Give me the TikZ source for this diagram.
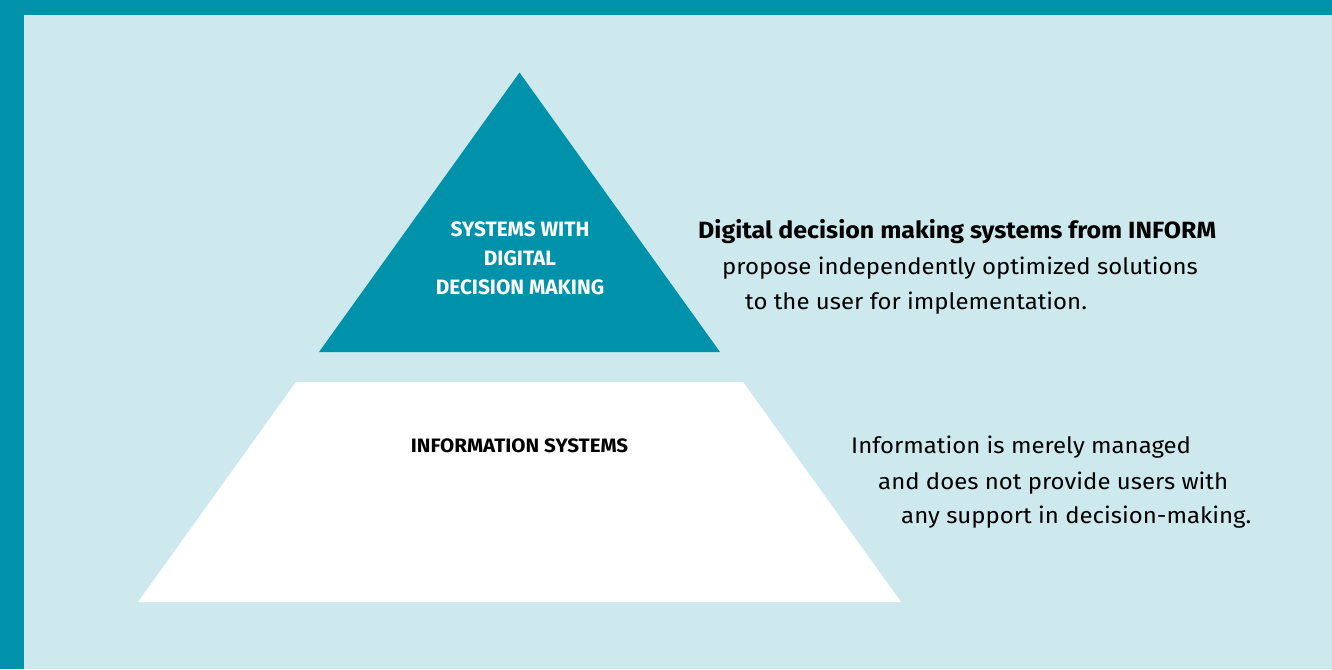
\documentclass[tikz,border=0pt]{standalone}
\usepackage{fontspec}
\setmainfont{Fira Sans}
\definecolor{teal}{HTML}{0092AA}
\definecolor{pale}{HTML}{CDE9ED}
\begin{document}
\begin{tikzpicture}[x=1pt,y=-1pt,
  lbl/.style={inner sep=0pt,anchor=base west},
  tri/.style={inner sep=0pt,anchor=base,text=white,font=\fontsize{20.8}{24}\selectfont\bfseries},
  body/.style={lbl,xscale=1.065,transform shape,font=\fontsize{22.5}{26}\selectfont},
  head/.style={lbl,xscale=1.063,transform shape,font=\fontsize{23.5}{28}\selectfont\bfseries}]
\useasboundingbox (0,0) rectangle (1332,669);
\fill[teal] (0,0) rectangle (1332,669);
\fill[pale] (24,15) rectangle (1332,669);
\fill[teal] (519.5,72.5) coordinate (apex) -- (720,352) coordinate (br) -- (319,352) coordinate (bl) -- cycle;
\fill[white] (296,382) -- (743,382) -- (901,602) -- (138,602) -- cycle;
\node[tri] (t1) at (520,236) {SYSTEMS WITH};
\node[tri] (t2) at (520,265) {DIGITAL};
\node[tri] (t3) at (520,294) {DECISION MAKING};
\node[inner sep=0pt,anchor=base,xscale=1.06,transform shape,font=\fontsize{19.4}{24}\selectfont\bfseries] (is) at (519.5,452) {INFORMATION SYSTEMS};
\node[head] (r1) at (698,238) {Digital decision making systems from INFORM};
\node[body] (r2) at (722,274) {propose independently optimized solutions};
\node[body] (r3) at (745,309) {to the user for implementation.};
\node[body] (s1) at (851,453) {Information is merely managed};
\node[body] (s2) at (878,489) {and does not provide users with};
\node[body] (s3) at (901,523) {any support in decision-making.};
\end{tikzpicture}
\end{document}
